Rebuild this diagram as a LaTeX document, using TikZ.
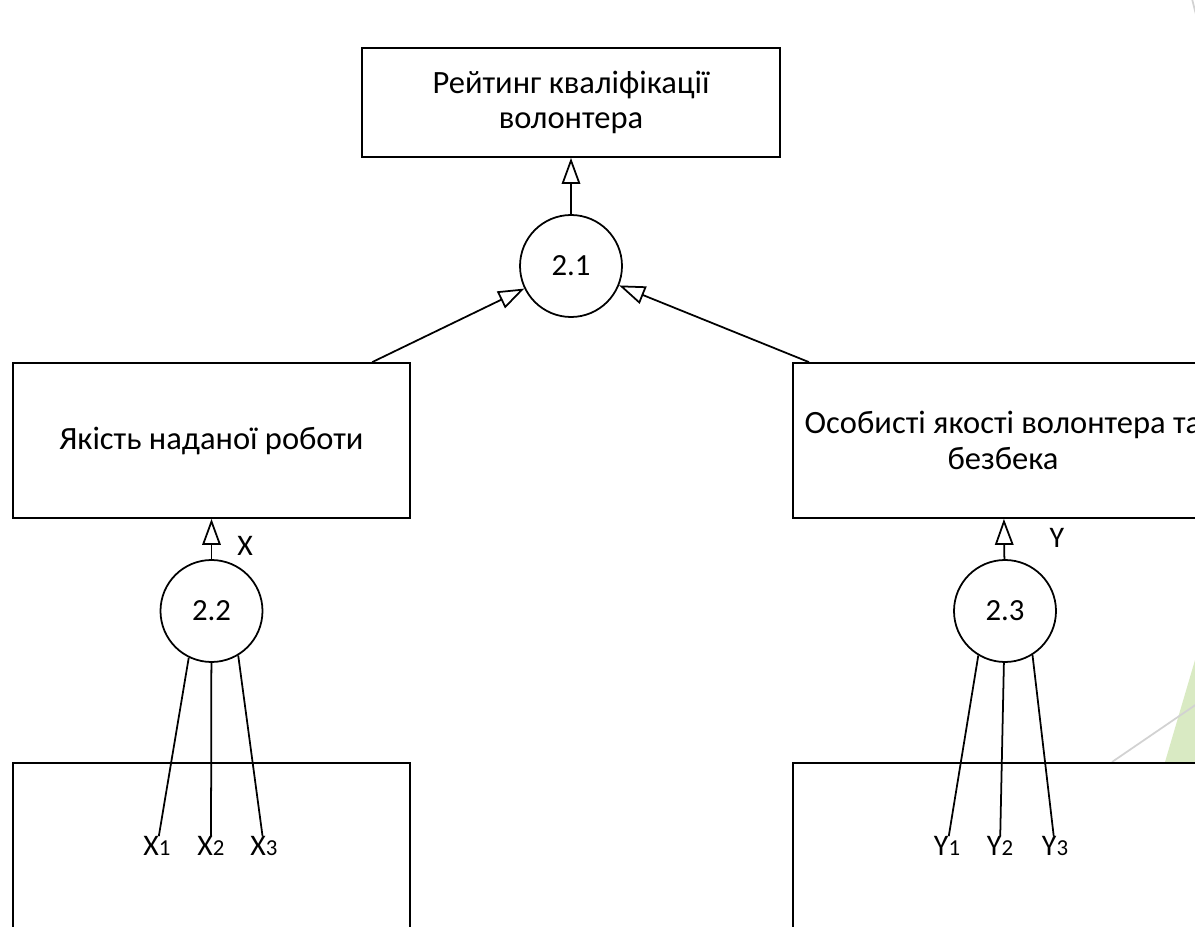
\documentclass[tikz,border=0pt]{standalone}
\usepackage{fontspec}
\setmainfont{Carlito}
\usepackage{xcolor}
\usetikzlibrary{arrows.meta}
\definecolor{leaf}{HTML}{D9EAC3}
\definecolor{faint}{HTML}{D2D2D2}

\begin{document}
\begin{tikzpicture}[
    block/.style={draw,fill=white,line width=1pt,align=center,inner sep=0pt,font=\fontsize{18.5}{20}\selectfont},
    op/.style={draw,circle,fill=white,line width=1pt,minimum size=2.04cm,inner sep=0pt,font=\fontsize{17.5}{18.8}\selectfont},
    lbl/.style={inner sep=1pt,text height=0.35cm,text depth=0pt,font=\fontsize{17}{19}\selectfont},
    up/.style={-{Triangle[open,length=0.52cm,width=0.37cm]},line width=1pt},
    wire/.style={line width=1pt}]
          \useasboundingbox (0, 0) rectangle (23.9, -18.54);
          \fill[leaf] (23.0, -16.26) -- (24.1, -12.52) -- (24.1, -16.26) -- cycle;
          \draw[faint,line width=1pt] (22.24, -15.24) -- (24.2, -13.9);
          \draw[faint,line width=1pt] (23.82, 0.1) -- (23.96, -0.45);
          \node[block,minimum width=8.36cm,minimum height=2.18cm] (rating) at (11.42, -2.05) {Рейтинг кваліфікації\\волонтера};
          \node[op] (c21) at (11.42, -5.32) {2.1};
          \node[block,minimum width=7.94cm,minimum height=3.1cm] (quality) at (4.23, -8.81) {Якість наданої роботи};
          \node[block,minimum width=8.4cm,minimum height=3.1cm] (persona) at (20.06, -8.81) {Особисті якості волонтера та\\безбека};
          \node[op] (c22) at (4.23, -12.22) {2.2};
          \node[op] (c23) at (20.1, -12.22) {2.3};
          \node[block,minimum width=7.94cm,minimum height=3.94cm] (xbox) at (4.23, -17.23) {};
          \node[block,minimum width=8.4cm,minimum height=3.94cm] (ybox) at (20.06, -17.23) {};
          \node[lbl] (xout) at (4.9, -10.94) {X};
          \node[lbl] (yout) at (21.14, -10.78) {Y};
          \node[lbl] (x1) at (3.14, -16.94) {X{\fontsize{13}{15}\selectfont 1}};
          \node[lbl] (x2) at (4.22, -16.94) {X{\fontsize{13}{15}\selectfont 2}};
          \node[lbl] (x3) at (5.28, -16.94) {X{\fontsize{13}{15}\selectfont 3}};
          \node[lbl] (y1) at (18.94, -16.94) {Y{\fontsize{13}{15}\selectfont 1}};
          \node[lbl] (y2) at (20.0, -16.94) {Y{\fontsize{13}{15}\selectfont 2}};
          \node[lbl] (y3) at (21.1, -16.94) {Y{\fontsize{13}{15}\selectfont 3}};
          \draw[up] (c21) -- (rating);
          \draw[up] (quality.26) -- (c21);
          \draw[up] (persona.158) -- (c21);
          \draw[up] (c22) -- (quality);
          \draw[up] (c23) -- (persona);
          \draw[wire] (c22.244) -- (x1);
          \draw[wire] (c22) -- (x2);
          \draw[wire] (c22.301) -- (x3);
          \draw[wire] (c23.239) -- (y1);
          \draw[wire] (c23) -- (y2);
          \draw[wire] (c23.302) -- (y3);
        \end{tikzpicture}
\end{document}
